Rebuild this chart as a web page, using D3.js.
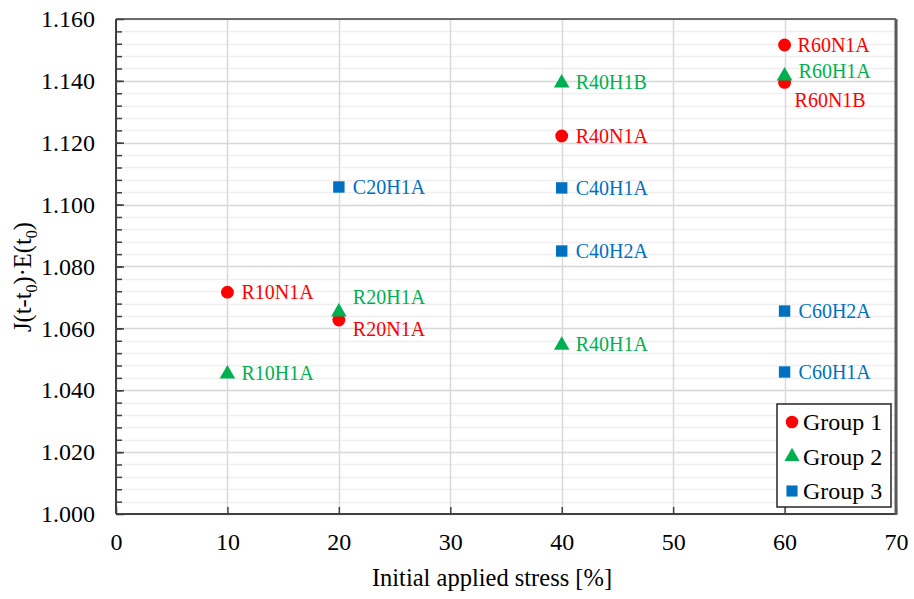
<!DOCTYPE html>
<html lang="en">
<head>
<meta charset="utf-8">
<title>Creep coefficient scatter</title>
<script src="https://cdn.jsdelivr.net/npm/d3@7"></script>
<style>
  body { margin: 0; background: #fff; }
  svg { display: block; font-family: "Liberation Serif", "Times New Roman", serif; }
</style>
</head>
<body>
<svg id="chart" width="914" height="599"></svg>
<script>
// data
const group1 = [ // red circles
  { name: "R10N1A", x: 10, y: 1.0717, dx: 14, dy: 0 },
  { name: "R20N1A", x: 20, y: 1.0627, dx: 14, dy: 9 },
  { name: "R40N1A", x: 40, y: 1.1222, dx: 14, dy: 0 },
  { name: "R60N1A", x: 60, y: 1.1516, dx: 13, dy: 0 },
  { name: "R60N1B", x: 60, y: 1.1395, dx: 10, dy: 18 }
];
const group2 = [ // green triangles
  { name: "R10H1A", x: 10, y: 1.0456, dx: 14, dy: 0 },
  { name: "R20H1A", x: 20, y: 1.0656, dx: 14, dy: -14 },
  { name: "R40H1B", x: 40, y: 1.1396, dx: 14, dy: 0 },
  { name: "R40H1A", x: 40, y: 1.0549, dx: 14, dy: 0 },
  { name: "R60H1A", x: 60, y: 1.1419, dx: 14, dy: -4 }
];
const group3 = [ // blue squares
  { name: "C20H1A", x: 20, y: 1.1057, dx: 14, dy: 0 },
  { name: "C40H1A", x: 40, y: 1.1054, dx: 14, dy: 0 },
  { name: "C40H2A", x: 40, y: 1.0850, dx: 14, dy: 0 },
  { name: "C60H2A", x: 60, y: 1.0656, dx: 14, dy: 0 },
  { name: "C60H1A", x: 60, y: 1.0459, dx: 14, dy: 0 }
];
const xTicks = [0, 10, 20, 30, 40, 50, 60, 70];
const yTicks = [1.000, 1.020, 1.040, 1.060, 1.080, 1.100, 1.120, 1.140, 1.160];
const yMinor = d3.range(1.004, 1.16, 0.004);

const series = [
  { label: "Group 1", data: group1, color: "#ff0000", shape: d3.symbolCircle, size: 130 },
  { label: "Group 2", data: group2, color: "#00b050", shape: d3.symbolTriangle, size: 105 },
  { label: "Group 3", data: group3, color: "#0070c0", shape: d3.symbolSquare, size: 130 }
];

const margin = { top: 19, right: 18, bottom: 85, left: 116 };
const W = 914, H = 599;
const width = W - margin.left - margin.right;
const height = H - margin.top - margin.bottom;

const svg = d3.select("#chart");
const g = svg.append("g").attr("transform", `translate(${margin.left},${margin.top})`);

const x = d3.scaleLinear().domain([0, 70]).range([0, width]);
const y = d3.scaleLinear().domain([1.0, 1.16]).range([height, 0]);

// minor horizontal grid
g.append("g").selectAll("line").data(yMinor).join("line")
  .attr("x1", 0).attr("x2", width)
  .attr("y1", d => Math.round(y(d)) + 0.5).attr("y2", d => Math.round(y(d)) + 0.5)
  .attr("stroke", "#efefef").attr("stroke-width", 1.5);

// major grid
g.append("g").selectAll("line").data(yTicks).join("line")
  .attr("x1", 0).attr("x2", width)
  .attr("y1", d => Math.round(y(d)) + 0.5).attr("y2", d => Math.round(y(d)) + 0.5)
  .attr("stroke", "#d9d9d9").attr("stroke-width", 1.5);
g.append("g").selectAll("line").data(xTicks).join("line")
  .attr("y1", 0).attr("y2", height)
  .attr("x1", d => Math.round(x(d)) + 0.5).attr("x2", d => Math.round(x(d)) + 0.5)
  .attr("stroke", "#d9d9d9").attr("stroke-width", 1.5);

// axes
const yAxis = d3.axisLeft(y).tickValues(yTicks).tickFormat(d3.format(".3f")).tickSize(-8).tickPadding(21);
const yAxisMinor = d3.axisLeft(y).tickValues(yMinor).tickFormat("").tickSize(-6);
const xAxis = d3.axisBottom(x).tickValues(xTicks).tickFormat(d3.format("d")).tickSize(-7).tickPadding(19);

const ya = g.append("g").call(yAxisMinor);
ya.select(".domain").remove();
ya.selectAll("line").attr("stroke", "#404040").attr("stroke-width", 1.5);

const yb = g.append("g").call(yAxis);
yb.select(".domain").remove();
yb.selectAll("line").attr("stroke", "#404040").attr("stroke-width", 1.5);
yb.selectAll("text").attr("font-size", 24).attr("fill", "#000").attr("font-family", "Liberation Serif");

const xb = g.append("g").attr("transform", `translate(0,${height})`).call(xAxis);
xb.select(".domain").remove();
xb.selectAll("line").attr("stroke", "#404040").attr("stroke-width", 1.5);
xb.selectAll("text").attr("font-size", 24).attr("fill", "#000").attr("font-family", "Liberation Serif");

// frame
g.append("line").attr("x1", 0).attr("x2", width).attr("y1", 0).attr("y2", 0).attr("stroke", "#404040").attr("stroke-width", 1.5);
g.append("line").attr("x1", 0).attr("x2", 0).attr("y1", 0).attr("y2", height).attr("stroke", "#404040").attr("stroke-width", 2);
g.append("line").attr("x1", 0).attr("x2", width).attr("y1", height).attr("y2", height).attr("stroke", "#404040").attr("stroke-width", 2);
g.append("line").attr("x1", width).attr("x2", width).attr("y1", 0).attr("y2", height + 1).attr("stroke", "#595959").attr("stroke-width", 3);

// points and labels
series.forEach(s => {
  const sym = d3.symbol().type(s.shape).size(s.size);
  g.append("g").selectAll("path").data(s.data).join("path")
    .attr("d", sym)
    .attr("transform", d => `translate(${x(d.x)},${y(d.y) + (s.shape === d3.symbolTriangle ? 1 : 0)})`)
    .attr("fill", s.color);
  g.append("g").selectAll("text").data(s.data).join("text")
    .attr("x", d => x(d.x) + d.dx)
    .attr("y", d => y(d.y) + d.dy)
    .attr("dy", "0.35em")
    .attr("fill", s.color)
    .attr("font-size", 20)
    .text(d => d.name);
});

// legend
const lg = g.append("g").attr("transform", `translate(${661},${385})`);
lg.append("rect").attr("width", 114).attr("height", 103)
  .attr("fill", "#fff").attr("stroke", "#262626").attr("stroke-width", 1.5);
series.forEach((s, i) => {
  const row = lg.append("g").attr("transform", `translate(0,${18 + i * 34.5})`);
  row.append("path").attr("d", d3.symbol().type(s.shape).size(s.size * 0.95)).attr("transform", "translate(15,0)").attr("fill", s.color);
  row.append("text").attr("x", 26).attr("dy", "0.35em").attr("font-size", 24).attr("fill", "#000").text(s.label);
});

// axis titles
svg.append("text")
  .attr("x", 492).attr("y", 586)
  .attr("text-anchor", "middle").attr("font-size", 24.5)
  .text("Initial applied stress [%]");

const yt = svg.append("text")
  .attr("transform", `translate(31,277) rotate(-90)`)
  .attr("text-anchor", "middle").attr("font-size", 24.5);
yt.append("tspan").text("J(t-t");
yt.append("tspan").attr("font-size", 16).attr("dy", 6).text("0");
yt.append("tspan").attr("dy", -6).text(")·E(t");
yt.append("tspan").attr("font-size", 16).attr("dy", 6).text("0");
yt.append("tspan").attr("dy", -6).text(")");
</script>
</body>
</html>
